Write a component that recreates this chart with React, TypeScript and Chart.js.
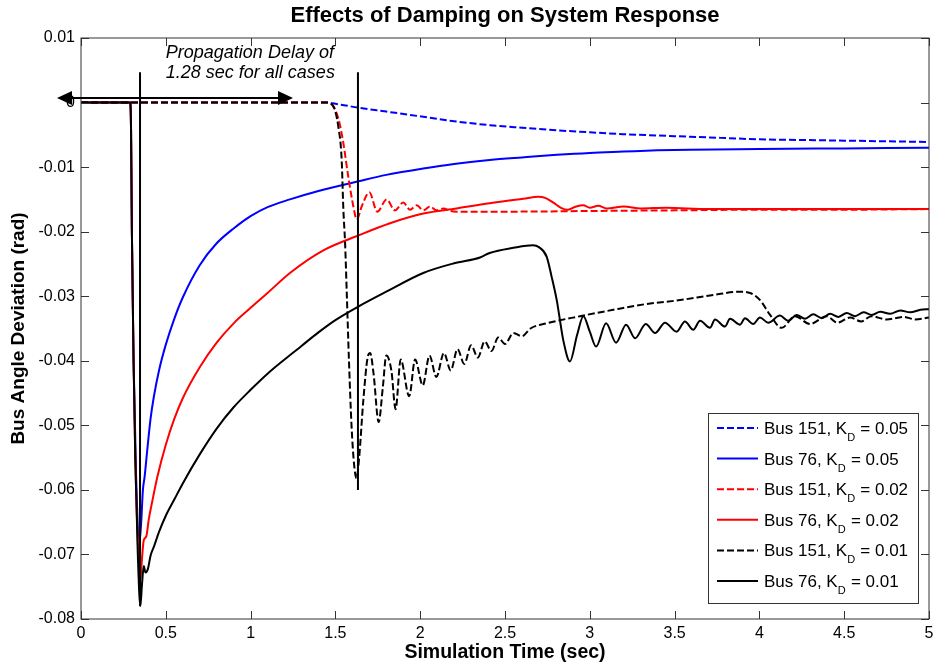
import React, { useEffect, useRef } from 'react';
import { Chart, registerables } from 'chart.js';

Chart.register(...registerables);

const FONT = '"Liberation Sans", Arial, Helvetica, sans-serif';

const chartTitle = 'Effects of Damping on System Response';
const xAxisTitle = 'Simulation Time (sec)';
const yAxisTitle = 'Bus Angle Deviation (rad)';

const xTickValues = [0, 0.5, 1, 1.5, 2, 2.5, 3, 3.5, 4, 4.5, 5];
const xTickLabels = ['0', '0.5', '1', '1.5', '2', '2.5', '3', '3.5', '4', '4.5', '5'];
const yTickValues = [0.01, 0, -0.01, -0.02, -0.03, -0.04, -0.05, -0.06, -0.07, -0.08];
const yTickLabels = ['0.01', '0', '-0.01', '-0.02', '-0.03', '-0.04', '-0.05', '-0.06', '-0.07', '-0.08'];

// [time (s), angle deviation (rad)]
const bus151Kd005: [number, number][] = [
  [0, 0], [1.449, 0], [1.5, -0.0002], [1.55, -0.0004], [1.635, -0.0008], [1.8, -0.0014],
  [2.018, -0.0022], [2.2, -0.0029], [2.41, -0.0035], [2.6, -0.0039], [2.805, -0.0043],
  [3.0, -0.0046], [3.198, -0.0049], [3.4, -0.0051], [3.59, -0.0053], [3.8, -0.0055],
  [4.0, -0.0057], [4.25, -0.0058], [4.5, -0.0059], [4.75, -0.006], [5.0, -0.0061],
];

const bus76Kd005: [number, number][] = [
  [0, 0], [0.29, 0], [0.295, -0.004], [0.3, -0.02], [0.31, -0.04], [0.325, -0.058],
  [0.345, -0.068], [0.355, -0.065], [0.365, -0.06], [0.375, -0.058], [0.39, -0.054],
  [0.41, -0.049], [0.43, -0.0455], [0.46, -0.0415], [0.5, -0.0375], [0.55, -0.0335],
  [0.6, -0.0302], [0.7, -0.0252], [0.8, -0.0218], [0.9, -0.0195], [1.0, -0.0176],
  [1.1, -0.0162], [1.232, -0.015], [1.4, -0.0137], [1.635, -0.0122], [1.8, -0.0112],
  [2.018, -0.0102], [2.2, -0.0095], [2.41, -0.0089], [2.6, -0.0085], [2.805, -0.0081],
  [3.0, -0.0078], [3.198, -0.0076], [3.4, -0.0074], [3.59, -0.0073], [4.0, -0.0072],
  [4.5, -0.0071], [5.0, -0.007],
];

const bus151Kd002: [number, number][] = [
  [0, 0], [1.458, 0], [1.488, -0.0006], [1.508, -0.0017], [1.527, -0.0035], [1.547, -0.0063],
  [1.576, -0.0115], [1.606, -0.0161], [1.626, -0.0181], [1.655, -0.0161], [1.7, -0.0139],
  [1.747, -0.0169], [1.802, -0.015], [1.851, -0.0167], [1.9, -0.0155], [1.94, -0.0166],
  [1.98, -0.0159], [2.018, -0.0167], [2.058, -0.0161], [2.097, -0.0167], [2.137, -0.0164],
  [2.18, -0.0168], [2.215, -0.0169], [2.5, -0.0169], [3.0, -0.0168], [3.5, -0.0167],
  [4.0, -0.0166], [4.5, -0.0166], [5.0, -0.0165],
];

const bus76Kd002: [number, number][] = [
  [0, 0], [0.29, 0], [0.295, -0.004], [0.3, -0.02], [0.31, -0.04], [0.32, -0.055],
  [0.335, -0.068], [0.35, -0.074], [0.36, -0.0705], [0.37, -0.0678], [0.385, -0.0672],
  [0.4, -0.0645], [0.42, -0.0618], [0.45, -0.058], [0.5, -0.053], [0.55, -0.049],
  [0.6, -0.0458], [0.7, -0.041], [0.8, -0.0372], [0.9, -0.0342], [1.0, -0.0318],
  [1.1, -0.0295], [1.232, -0.0264], [1.429, -0.0229], [1.635, -0.0206], [1.822, -0.0187],
  [2.018, -0.0172], [2.215, -0.0164], [2.41, -0.0156], [2.608, -0.0149], [2.696, -0.0146],
  [2.74, -0.0148], [2.785, -0.0155], [2.83, -0.0163], [2.87, -0.0166], [2.92, -0.0161],
  [2.962, -0.0159], [3.0, -0.0163], [3.05, -0.016], [3.1, -0.0164], [3.2, -0.0161],
  [3.3, -0.0164], [3.45, -0.0163], [3.7, -0.0165], [4.0, -0.0165], [5.0, -0.0165],
];

const bus151Kd001: [number, number][] = [
  [0, 0], [1.449, 0], [1.488, -0.0006], [1.517, -0.0037], [1.537, -0.0089], [1.547, -0.0166],
  [1.557, -0.0217], [1.567, -0.0295], [1.58, -0.04], [1.595, -0.05], [1.61, -0.056],
  [1.625, -0.0582], [1.64, -0.055], [1.665, -0.046], [1.69, -0.0395], [1.705, -0.0388],
  [1.725, -0.042], [1.755, -0.0495], [1.78, -0.044], [1.8, -0.0392], [1.83, -0.0415],
  [1.855, -0.0475], [1.885, -0.0398], [1.935, -0.0455], [1.97, -0.0398], [2.015, -0.0438],
  [2.055, -0.0392], [2.095, -0.0425], [2.14, -0.0388], [2.18, -0.0415], [2.22, -0.0382],
  [2.26, -0.0405], [2.3, -0.0376], [2.34, -0.0395], [2.38, -0.037], [2.42, -0.0385],
  [2.46, -0.0364], [2.5, -0.0374], [2.55, -0.0357], [2.6, -0.0362], [2.65, -0.035],
  [2.746, -0.0342], [2.942, -0.0331], [3.139, -0.0321], [3.335, -0.0312], [3.532, -0.0306],
  [3.728, -0.0298], [3.886, -0.0293], [3.945, -0.0295], [4.004, -0.0306], [4.063, -0.0329],
  [4.131, -0.0349], [4.21, -0.0331], [4.298, -0.0343], [4.397, -0.0331], [4.46, -0.0341],
  [4.534, -0.0333], [4.6, -0.0339], [4.66, -0.0331], [4.75, -0.0336], [4.85, -0.0332],
  [4.92, -0.0336], [5.0, -0.0333],
];

const bus76Kd001: [number, number][] = [
  [0, 0], [0.29, 0], [0.295, -0.004], [0.3, -0.02], [0.31, -0.04], [0.32, -0.055],
  [0.335, -0.07], [0.35, -0.078], [0.36, -0.0745], [0.37, -0.0718], [0.38, -0.0728],
  [0.395, -0.0722], [0.41, -0.0702], [0.43, -0.0688], [0.46, -0.0665], [0.5, -0.064],
  [0.55, -0.0615], [0.6, -0.059], [0.7, -0.0545], [0.8, -0.0505], [0.9, -0.0472],
  [1.0, -0.0445], [1.1, -0.042], [1.2, -0.0398], [1.3, -0.0377], [1.4, -0.0356],
  [1.5, -0.0337], [1.635, -0.0316], [1.8, -0.0293], [2.018, -0.0264], [2.2, -0.0249],
  [2.353, -0.024], [2.41, -0.0233], [2.55, -0.0225], [2.665, -0.0221], [2.7, -0.0224],
  [2.746, -0.0239], [2.775, -0.027], [2.805, -0.0306], [2.845, -0.037], [2.883, -0.0401],
  [2.925, -0.036], [2.962, -0.0331], [3.0, -0.0355], [3.037, -0.0378], [3.096, -0.0342],
  [3.155, -0.0372], [3.214, -0.0344], [3.267, -0.0365], [3.33, -0.0343], [3.385, -0.0357],
  [3.443, -0.0341], [3.512, -0.0355], [3.561, -0.0339], [3.61, -0.0352], [3.65, -0.0338],
  [3.709, -0.0349], [3.738, -0.0336], [3.797, -0.0347], [3.827, -0.0335], [3.886, -0.0344],
  [3.915, -0.0334], [3.964, -0.0343], [4.003, -0.0333], [4.052, -0.0341], [4.121, -0.033],
  [4.17, -0.0338], [4.22, -0.0329], [4.269, -0.0335], [4.318, -0.0328], [4.368, -0.0334],
  [4.417, -0.0327], [4.466, -0.0332], [4.515, -0.0326], [4.564, -0.0331], [4.614, -0.0325],
  [4.663, -0.0329], [4.712, -0.0324], [4.771, -0.0327], [4.83, -0.0322], [4.889, -0.0325],
  [4.95, -0.0321], [5.0, -0.032],
];

const seriesData = [bus151Kd005, bus76Kd005, bus151Kd002, bus76Kd002, bus151Kd001, bus76Kd001];
const seriesBus = ['Bus 151', 'Bus 76', 'Bus 151', 'Bus 76', 'Bus 151', 'Bus 76'];
const seriesKd = ['0.05', '0.05', '0.02', '0.02', '0.01', '0.01'];
const seriesColors = ['#0000ff', '#0000ff', '#ff0000', '#ff0000', '#000000', '#000000'];
const seriesDashed = [true, false, true, false, true, false];

// annotation values (data units)
const delayMarkerT = [0.348, 1.633];
const delayMarkerTop = [0.0047, 0.0047];
const delayMarkerBottom = [-0.078, -0.06];
const arrowT = [-0.1415, 1.25];
const arrowV = 0.0007;
const noteLines = ['Propagation Delay of', '1.28 sec for all cases'];
const noteT = 0.5;
const noteV = [0.0077, 0.0046];

const DASH = [7, 3];

const decorPlugin = {
  id: 'decor',
  afterDraw(chart: any) {
    const { ctx, chartArea: a, scales } = chart;
    const xs = scales.x;
    const ys = scales.y;
    ctx.save();

    // frame
    ctx.strokeStyle = '#333';
    ctx.lineWidth = 1;
    ctx.setLineDash([]);
    ctx.strokeRect(Math.round(a.left), Math.round(a.top), Math.round(a.right - a.left), Math.round(a.bottom - a.top));

    // inward ticks on all sides
    const TL = 8;
    ctx.beginPath();
    xTickValues.forEach((v) => {
      const px = Math.round(xs.getPixelForValue(v)) + 0.5;
      ctx.moveTo(px, a.bottom);
      ctx.lineTo(px, a.bottom - TL);
      ctx.moveTo(px, a.top);
      ctx.lineTo(px, a.top + TL);
    });
    yTickValues.forEach((v) => {
      const py = Math.round(ys.getPixelForValue(v)) + 0.5;
      ctx.moveTo(a.left, py);
      ctx.lineTo(a.left + TL, py);
      ctx.moveTo(a.right, py);
      ctx.lineTo(a.right - TL, py);
    });
    ctx.stroke();

    // delay marker lines
    ctx.strokeStyle = '#000';
    ctx.lineWidth = 2;
    delayMarkerT.forEach((t, i) => {
      const px = xs.getPixelForValue(t);
      ctx.beginPath();
      ctx.moveTo(px, ys.getPixelForValue(delayMarkerTop[i]));
      ctx.lineTo(px, ys.getPixelForValue(delayMarkerBottom[i]));
      ctx.stroke();
    });

    // double-headed arrow
    const ay = ys.getPixelForValue(arrowV);
    const ax0 = xs.getPixelForValue(arrowT[0]);
    const ax1 = xs.getPixelForValue(arrowT[1]);
    const HL = 15;
    const HW = 7;
    ctx.beginPath();
    ctx.moveTo(ax0 + HL - 2, ay);
    ctx.lineTo(ax1 - HL + 2, ay);
    ctx.stroke();
    ctx.fillStyle = '#000';
    ctx.beginPath();
    ctx.moveTo(ax0, ay);
    ctx.lineTo(ax0 + HL, ay - HW);
    ctx.lineTo(ax0 + HL, ay + HW);
    ctx.closePath();
    ctx.fill();
    ctx.beginPath();
    ctx.moveTo(ax1, ay);
    ctx.lineTo(ax1 - HL, ay - HW);
    ctx.lineTo(ax1 - HL, ay + HW);
    ctx.closePath();
    ctx.fill();

    // note text
    ctx.font = `italic 18px ${FONT}`;
    ctx.textAlign = 'left';
    ctx.textBaseline = 'middle';
    noteLines.forEach((line, i) => {
      ctx.fillText(line, xs.getPixelForValue(noteT), ys.getPixelForValue(noteV[i]));
    });

    // legend
    const boxW = 210;
    const boxH = 190;
    const bx = Math.round(a.right - 11 - boxW);
    const by = Math.round(a.bottom - 16 - boxH);
    ctx.fillStyle = '#fff';
    ctx.fillRect(bx, by, boxW, boxH);
    ctx.strokeStyle = '#333';
    ctx.lineWidth = 1;
    ctx.strokeRect(bx + 0.5, by + 0.5, boxW, boxH);
    const rowH = 30.6;
    seriesData.forEach((_, i) => {
      const cy = by + 15 + i * rowH;
      ctx.strokeStyle = seriesColors[i];
      ctx.lineWidth = 2;
      ctx.setLineDash(seriesDashed[i] ? DASH : []);
      ctx.beginPath();
      ctx.moveTo(bx + 9, cy);
      ctx.lineTo(bx + 50, cy);
      ctx.stroke();
      ctx.setLineDash([]);
      ctx.fillStyle = '#000';
      ctx.textBaseline = 'alphabetic';
      ctx.textAlign = 'left';
      ctx.font = `17px ${FONT}`;
      const base = cy + 6;
      let tx = bx + 56;
      const first = `${seriesBus[i]}, K`;
      ctx.fillText(first, tx, base);
      tx += ctx.measureText(first).width;
      ctx.font = `11px ${FONT}`;
      ctx.fillText('D', tx, base + 7);
      tx += ctx.measureText('D').width + 0.5;
      ctx.font = `17px ${FONT}`;
      ctx.fillText(` = ${seriesKd[i]}`, tx, base);
    });

    // titles
    ctx.fillStyle = '#000';
    ctx.textAlign = 'center';
    ctx.textBaseline = 'middle';
    const cx = (a.left + a.right) / 2;
    ctx.font = `bold 22px ${FONT}`;
    ctx.fillText(chartTitle, cx, 16);
    ctx.font = `bold 19.5px ${FONT}`;
    ctx.fillText(xAxisTitle, cx, a.bottom + 34);
    ctx.save();
    ctx.translate(19, (a.top + a.bottom) / 2);
    ctx.rotate(-Math.PI / 2);
    ctx.font = `bold 19px ${FONT}`;
    ctx.fillText(yAxisTitle, 0, 0);
    ctx.restore();

    ctx.restore();
  },
};

export default function App() {
  const canvasRef = useRef<HTMLCanvasElement | null>(null);

  useEffect(() => {
    document.body.style.margin = '0';
    const canvas = canvasRef.current;
    if (!canvas) return;
    const datasets = seriesData.map((pts, i) => ({
      label: `${seriesBus[i]}, KD = ${seriesKd[i]}`,
      data: pts.map(([x, y]) => ({ x, y })),
      borderColor: seriesColors[i],
      backgroundColor: seriesColors[i],
      borderWidth: 2,
      borderDash: seriesDashed[i] ? DASH : [],
      pointRadius: 0,
      fill: false,
      cubicInterpolationMode: 'monotone' as const,
      order: seriesData.length - 1 - i,
    }));

    const chart = new Chart(canvas, {
      type: 'line',
      data: { datasets },
      plugins: [decorPlugin],
      options: {
        animation: false,
        responsive: false,
        devicePixelRatio: 1,
        events: [],
        layout: { padding: { top: 38, right: 4, left: 0, bottom: 0 } },
        plugins: {
          legend: { display: false },
          title: { display: false },
          tooltip: { enabled: false },
        },
        scales: {
          x: {
            type: 'linear',
            min: 0,
            max: 5,
            afterBuildTicks: (s: any) => {
              s.ticks = xTickValues.map((v) => ({ value: v }));
            },
            afterFit: (s: any) => {
              s.height = 46;
              s.paddingLeft = 0;
              s.paddingRight = 0;
            },
            ticks: {
              autoSkip: false,
              maxRotation: 0,
              padding: 5,
              color: '#000',
              font: { family: FONT, size: 16 },
              callback: (v: any) => {
                const idx = xTickValues.findIndex((t) => Math.abs(t - Number(v)) < 1e-9);
                return idx >= 0 ? xTickLabels[idx] : '';
              },
            },
            grid: { display: false, drawTicks: false },
            border: { display: false },
          },
          y: {
            type: 'linear',
            min: -0.08,
            max: 0.01,
            afterBuildTicks: (s: any) => {
              s.ticks = yTickValues.slice().reverse().map((v) => ({ value: v }));
            },
            afterFit: (s: any) => {
              s.width = 81;
              s.paddingTop = 0;
              s.paddingBottom = 0;
            },
            ticks: {
              autoSkip: false,
              padding: 6,
              color: '#000',
              font: { family: FONT, size: 16 },
              callback: (v: any) => {
                const idx = yTickValues.findIndex((t) => Math.abs(t - Number(v)) < 1e-9);
                return idx >= 0 ? yTickLabels[idx] : '';
              },
            },
            grid: { display: false, drawTicks: false },
            border: { display: false },
          },
        },
      },
    } as any);

    return () => {
      chart.destroy();
    };
  }, []);

  return (
    <div style={{ width: 933, height: 665 }}>
      <canvas ref={canvasRef} width={933} height={665} style={{ display: 'block' }} />
    </div>
  );
}
